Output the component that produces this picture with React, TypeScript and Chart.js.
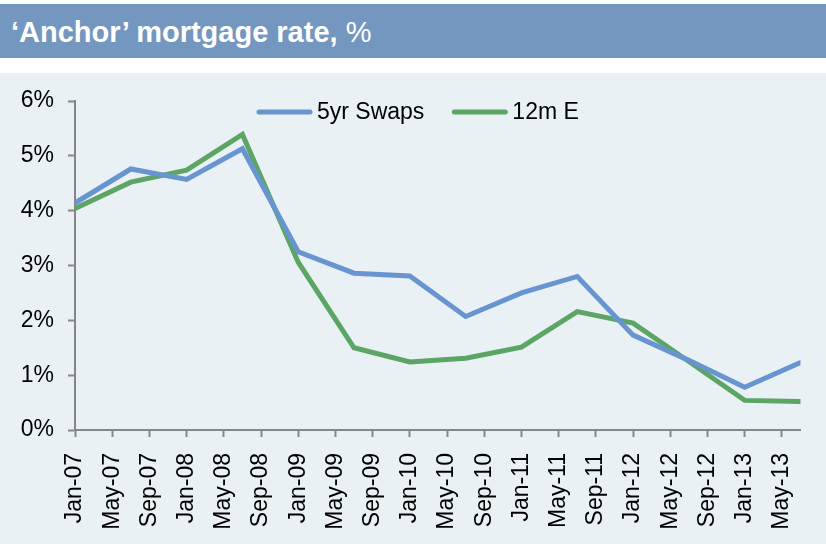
import React, { useEffect, useRef } from "react";
import { Chart, registerables } from "chart.js";

Chart.register(...registerables);

const MONTHS = ["Jan", "Feb", "Mar", "Apr", "May", "Jun", "Jul", "Aug", "Sep", "Oct", "Nov", "Dec"];

// Semi-annual observations
const pointDates = [
  "Jan-07", "Jul-07", "Jan-08", "Jul-08", "Jan-09", "Jul-09", "Jan-10",
  "Jul-10", "Jan-11", "Jul-11", "Jan-12", "Jul-12", "Jan-13", "Jul-13",
];
const swaps5yr = [4.14, 4.76, 4.57, 5.13, 3.25, 2.86, 2.81, 2.07, 2.5, 2.8, 1.73, 1.27, 0.78, 1.23];
const e12m = [4.04, 4.52, 4.74, 5.39, 3.06, 1.5, 1.24, 1.31, 1.51, 2.16, 1.95, 1.25, 0.54, 0.52];

const seriesLabels = ["5yr Swaps", "12m E"];

const xTickLabels = [
  "Jan-07", "May-07", "Sep-07", "Jan-08", "May-08", "Sep-08", "Jan-09", "May-09", "Sep-09", "Jan-10",
  "May-10", "Sep-10", "Jan-11", "May-11", "Sep-11", "Jan-12", "May-12", "Sep-12", "Jan-13", "May-13",
];
const xAxisStart = "Jan-07";
const xAxisEnd = "Jul-13";
const yTickLabels = ["0%", "1%", "2%", "3%", "4%", "5%", "6%"];

const TITLE = "\u2018Anchor\u2019 mortgage rate,";
const TITLE_UNIT = " %";

const BLUE = "#6894D0";
const GREEN = "#5CA564";
const GREY = "#868686";
const FONT = '"Liberation Sans", Arial, Helvetica, sans-serif';
const FONT_SIZE = 23;

function monthIndex(label: string): number {
  const [m, y] = label.split("-");
  const base = xAxisStart.split("-");
  return (Number(y) - Number(base[1])) * 12 + MONTHS.indexOf(m) - MONTHS.indexOf(base[0]);
}

// Legend drawn inside the plot area, in one row, like the original
const inlineLegend = {
  id: "inlineLegend",
  afterDatasetsDraw(chart: any) {
    const ctx = chart.ctx;
    const lineLen = 55;
    const gapText = 5;
    const gapItem = 28;
    const y = chart.chartArea.top + 11;
    let x = 257;
    ctx.save();
    ctx.font = `${FONT_SIZE}px ${FONT}`;
    ctx.textBaseline = "middle";
    ctx.textAlign = "left";
    chart.data.datasets.forEach((ds: any) => {
      ctx.strokeStyle = ds.borderColor;
      ctx.lineWidth = ds.borderWidth;
      ctx.lineCap = "round";
      ctx.beginPath();
      ctx.moveTo(x + 2, y);
      ctx.lineTo(x + lineLen - 2, y);
      ctx.stroke();
      ctx.fillStyle = "#000";
      const tx = x + lineLen + gapText;
      ctx.fillText(ds.label, tx, y + 1);
      x = tx + ctx.measureText(ds.label).width + gapItem;
    });
    ctx.restore();
  },
};

export default function App() {
  const canvasRef = useRef<HTMLCanvasElement | null>(null);

  useEffect(() => {
    const canvas = canvasRef.current;
    if (!canvas) return;
    const font = { family: FONT, size: FONT_SIZE };
    const chart = new Chart(canvas, {
      type: "line",
      data: {
        datasets: [
          {
            label: seriesLabels[0],
            data: pointDates.map((d, i) => ({ x: monthIndex(d), y: swaps5yr[i] })),
            borderColor: BLUE,
            backgroundColor: BLUE,
            borderWidth: 5,
            pointRadius: 0,
            borderCapStyle: "round",
            tension: 0,
          },
          {
            label: seriesLabels[1],
            data: pointDates.map((d, i) => ({ x: monthIndex(d), y: e12m[i] })),
            borderColor: GREEN,
            backgroundColor: GREEN,
            borderWidth: 5,
            pointRadius: 0,
            borderCapStyle: "round",
            tension: 0,
          },
        ],
      },
      options: {
        animation: false,
        responsive: false,
        maintainAspectRatio: false,
        layout: { padding: { top: 28, right: 20, left: 0, bottom: 0 } },
        plugins: {
          legend: { display: false },
          tooltip: { enabled: false },
        },
        scales: {
          x: {
            type: "linear",
            min: monthIndex(xAxisStart),
            max: monthIndex(xAxisEnd),
            afterBuildTicks: (scale: any) => {
              scale.ticks = xTickLabels.map((l) => ({ value: monthIndex(l) }));
            },
            afterFit: (scale: any) => {
              scale.height = 114;
            },
            ticks: {
              autoSkip: false,
              maxRotation: 90,
              minRotation: 90,
              padding: 16,
              color: "#000",
              font,
              callback: (_v: any, i: number) => xTickLabels[i],
            },
            grid: {
              drawOnChartArea: false,
              drawTicks: true,
              tickLength: 7,
              tickColor: GREY,
              tickWidth: 2,
            },
            border: { display: true, color: GREY, width: 2 },
          },
          y: {
            min: 0,
            max: 6,
            afterFit: (scale: any) => {
              scale.width = 75;
            },
            ticks: {
              stepSize: 1,
              padding: 14,
              color: "#000",
              font,
              callback: (_v: any, i: number) => yTickLabels[i],
            },
            grid: {
              drawOnChartArea: false,
              drawTicks: true,
              tickLength: 7,
              tickColor: GREY,
              tickWidth: 2,
            },
            border: { display: true, color: GREY, width: 2 },
          },
        },
      },
      plugins: [inlineLegend],
    } as any);
    return () => chart.destroy();
  }, []);

  return (
    <div
      style={{
        position: "absolute",
        left: 0,
        top: 0,
        width: 826,
        height: 544,
        background: "#fff",
        overflow: "hidden",
        fontFamily: FONT,
      }}
    >
      <div
        style={{
          position: "absolute",
          left: 0,
          top: 4,
          width: 826,
          height: 54,
          background: "#7397BF",
        }}
      />
      <div
        style={{
          position: "absolute",
          left: 11,
          top: 16,
          lineHeight: "33px",
          fontSize: 29,
          color: "#fff",
          whiteSpace: "nowrap",
        }}
      >
        <span style={{ fontWeight: "bold" }}>{TITLE}</span>
        <span>{TITLE_UNIT}</span>
      </div>
      <div
        style={{
          position: "absolute",
          left: 0,
          top: 73,
          width: 826,
          height: 471,
          background: "#E9F1F5",
        }}
      >
        <canvas ref={canvasRef} width={826} height={471} style={{ width: 826, height: 471, display: "block" }} />
      </div>
    </div>
  );
}
